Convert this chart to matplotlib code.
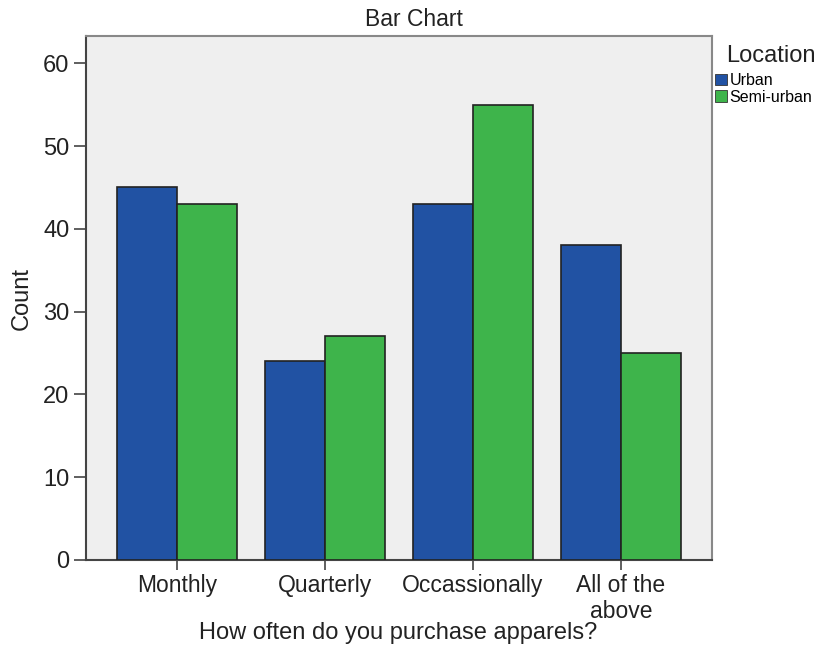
import numpy as np
import matplotlib
matplotlib.use("Agg")
import matplotlib.pyplot as plt
import matplotlib.patches as mpatches

plt.rcParams["font.family"] = ["Liberation Sans", "DejaVu Sans"]

categories = ["Monthly", "Quarterly", "Occassionally", "All of the\nabove"]
urban = [45, 24, 43, 38]
semi_urban = [43, 27, 55, 25]
series_names = ["Urban", "Semi-urban"]
yticks = [0, 10, 20, 30, 40, 50, 60]

BLUE = "#2152A3"
GREEN = "#3EB44B"
TXT = "#222222"

fig = plt.figure(figsize=(8.16, 6.46), dpi=100)
ax = fig.add_axes([86 / 816, 1 - 560 / 646, 626 / 816, 524 / 646])
ax.set_facecolor("#EFEFEF")

x = np.arange(len(categories))
w = 60 / 148
ax.bar(x - w / 2, urban, w, color=BLUE, edgecolor="#222222", linewidth=1.2, zorder=3)
ax.bar(x + w / 2, semi_urban, w, color=GREEN, edgecolor="#222222", linewidth=1.2, zorder=3)

ax.set_xlim(-91 / 148, 3 + 91 / 148)
ax.set_ylim(0, 63.3)
ax.set_xticks(x)
ax.set_xticklabels(categories, fontsize=16.5, color=TXT, linespacing=1.15)
ax.set_yticks(yticks)
ax.tick_params(axis="y", labelsize=17, labelcolor=TXT, length=9, width=1.2, color="#444444", pad=3)
ax.tick_params(axis="x", length=7, width=1.2, color="#444444", pad=3)

for side in ["top", "right"]:
    ax.spines[side].set_color("#888888")
    ax.spines[side].set_linewidth(1.5)
for side in ["left", "bottom"]:
    ax.spines[side].set_color("#444444")
    ax.spines[side].set_linewidth(1.5)

fig.text(414 / 816, 1 - 26 / 646, "Bar Chart", fontsize=16.5, color=TXT,
         ha="center", va="baseline")
ax.set_ylabel("Count", fontsize=17, color=TXT, labelpad=7)
fig.text(398 / 816, 1 - 639 / 646, "How often do you purchase apparels?",
         fontsize=17, color=TXT, ha="center", va="baseline")

# legend: title as separate text, patches below
fig.text(726 / 816, 1 - 62 / 646, "Location", fontsize=17, color=TXT,
         ha="left", va="baseline")
handles = [mpatches.Patch(facecolor=BLUE, edgecolor="#333333", linewidth=0.6, label=series_names[0]),
           mpatches.Patch(facecolor=GREEN, edgecolor="#333333", linewidth=0.6, label=series_names[1])]
leg = fig.legend(handles=handles, loc="upper left",
                 bbox_to_anchor=(712 / 816, 1 - 70 / 646), frameon=False,
                 fontsize=11.5, handlelength=0.75, handleheight=0.75,
                 handletextpad=0.15, labelspacing=0.1, borderpad=0.2, borderaxespad=0)

fig.savefig("out.png", dpi=100, facecolor="white")
